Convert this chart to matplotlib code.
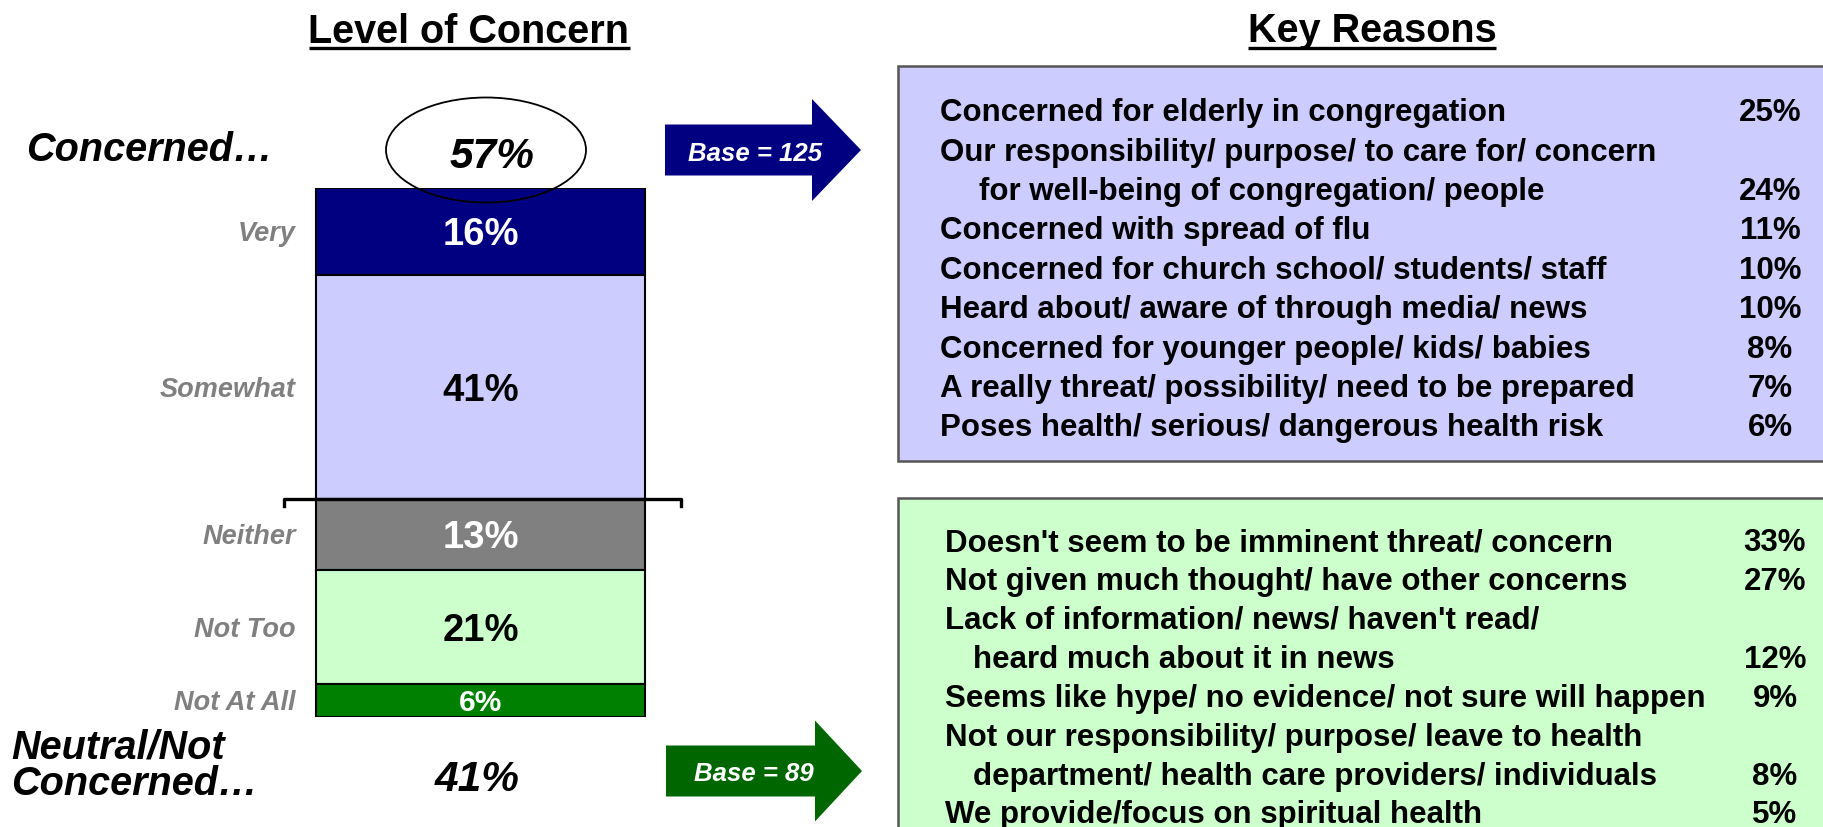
"""Level of concern stacked bar with key reasons panels."""

import matplotlib

matplotlib.use("Agg")
import matplotlib.pyplot as plt
import numpy as np
from matplotlib.patches import Ellipse, FancyArrow, Rectangle
from matplotlib.transforms import ScaledTranslation

W, H = 1823, 827

levels = ["Very", "Somewhat", "Neither", "Not Too", "Not At All"]
level_pct = [16, 41, 13, 21, 6]
level_colors = ["#000080", "#CCCCFF", "#808080", "#CCFFCC", "#008000"]
level_text_colors = ["white", "black", "white", "black", "white"]
n_concerned = 2  # first two levels make up "Concerned"

concerned_total = 57
not_concerned_total = 41
concerned_base = 125
not_concerned_base = 89

concern_reasons = [
    "Concerned for elderly in congregation",
    "Our responsibility/ purpose/ to care for/ concern\nfor well-being of congregation/ people",
    "Concerned with spread of flu",
    "Concerned for church school/ students/ staff",
    "Heard about/ aware of through media/ news",
    "Concerned for younger people/ kids/ babies",
    "A really threat/ possibility/ need to be prepared",
    "Poses health/ serious/ dangerous health risk",
]
concern_pct = [25, 24, 11, 10, 10, 8, 7, 6]

noconcern_reasons = [
    "Doesn't seem to be imminent threat/ concern",
    "Not given much thought/ have other concerns",
    "Lack of information/ news/ haven't read/\nheard much about it in news",
    "Seems like hype/ no evidence/ not sure will happen",
    "Not our responsibility/ purpose/ leave to health\ndepartment/ health care providers/ individuals",
    "We provide/focus on spiritual health",
]
noconcern_pct = [33, 27, 12, 9, 8, 5]

plt.rcParams["font.family"] = ["Liberation Sans", "DejaVu Sans"]
plt.rcParams["font.weight"] = "bold"

fig = plt.figure(figsize=(W / 100, H / 100), dpi=100)


def ctext(ax, x, y, s, size, **kw):
    """Text whose cap height is centred on y."""
    shift = ScaledTranslation(0, -0.358 * size / 72, fig.dpi_scale_trans)
    return ax.text(x, y, s, fontsize=size, va="baseline",
                   transform=ax.transData + shift, **kw)


# stacked bar
bar_ax = fig.add_axes([284 / W, 1 - 717 / H, (681 - 284) / W, (717 - 188) / H])
total = sum(level_pct)
bottoms = np.concatenate([[0], np.cumsum(level_pct)[:-1]])
bar_x = 0.495
bar_ax.bar(
    [bar_x] * len(levels),
    level_pct,
    width=0.829,
    bottom=bottoms,
    color=level_colors,
    edgecolor="black",
    linewidth=1.5,
)
bar_ax.set_xlim(0, 1)
bar_ax.set_ylim(total, 0)
bar_ax.axis("off")

for name, v, b, tc in zip(levels, level_pct, bottoms, level_text_colors):
    mid = b + v / 2
    ctext(bar_ax, bar_x, mid, f"{v}%", 27.5 if v >= 10 else 21.5,
          ha="center", color=tc)
    ctext(bar_ax, 0.03, mid, name, 19.5, ha="right", color="#808080",
          style="italic")

split = bottoms[n_concerned]
bar_ax.plot([0, 0, 1, 1], [split + 1.4, split, split, split + 1.4],
            color="black", lw=2.4, clip_on=False)

# overlay in pixel coordinates
ov = fig.add_axes([0, 0, 1, 1])
ov.set_xlim(0, W)
ov.set_ylim(H, 0)
ov.axis("off")
ov.patch.set_visible(False)

titles = [
    ctext(ov, 469, 29, "Level of Concern", 28.5, ha="center"),
    ctext(ov, 1372, 28, "Key Reasons", 28.5, ha="center"),
]

ctext(ov, 26, 147, "Concerned…", 28.5, ha="left", style="italic")
ov.add_patch(Ellipse((486, 150), 200, 105, fill=False, edgecolor="black", lw=1.3))
ctext(ov, 492, 153, f"{concerned_total}%", 30.5, ha="center", style="italic")

ov.text(11, 766, "Neutral/Not\nConcerned…", ha="left", va="center",
        fontsize=28.5, style="italic", linespacing=0.95)
ctext(ov, 477, 776, f"{not_concerned_total}%", 30.5, ha="center", style="italic")

# arrows
ov.add_patch(FancyArrow(665, 150, 196, 0, width=51, head_width=102, head_length=49,
                        length_includes_head=True, color="#000080", lw=0))
ctext(ov, 755, 152, f"Base = {concerned_base}", 18.5, ha="center",
      color="white", style="italic")
ov.add_patch(FancyArrow(666, 771, 196, 0, width=51, head_width=101, head_length=47,
                        length_includes_head=True, color="#006600", lw=0))
ctext(ov, 754, 772, f"Base = {not_concerned_base}", 18.5, ha="center",
      color="white", style="italic")

# reason panels
ov.add_patch(Rectangle((898, 66), 1000, 395, facecolor="#CCCCFF",
                       edgecolor="#555555", lw=1.8))
ov.add_patch(Rectangle((898, 498), 1000, 400, facecolor="#CCFFCC",
                       edgecolor="#555555", lw=1.8))


def draw_reasons(reasons, pcts, x0, indent, y0, step, xp):
    row = 0
    for text, p in zip(reasons, pcts):
        lines = text.split("\n")
        for i, line in enumerate(lines):
            ctext(ov, x0 + (indent if i else 0), y0 + row * step, line, 22.5,
                  ha="left")
            row += 1
        ctext(ov, xp, y0 + (row - 1) * step, f"{p}%", 22.5, ha="center")


draw_reasons(concern_reasons, concern_pct, 940, 39, 110, 39.4, 1770)
draw_reasons(noconcern_reasons, noconcern_pct, 945, 28, 540, 38.9, 1775)

# underline titles
fig.canvas.draw()
renderer = fig.canvas.get_renderer()
inv = ov.transData.inverted()
for t in titles:
    bb = t.get_window_extent(renderer)
    (x1, _), (x2, _) = inv.transform([[bb.x0, bb.y0], [bb.x1, bb.y0]])
    ov.plot([x1, x2], [48, 48], color="black", lw=2.4, solid_capstyle="butt")

fig.savefig("out.png", dpi=100)
